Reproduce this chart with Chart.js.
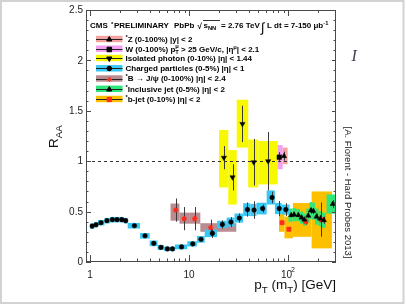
<!DOCTYPE html>
<html>
<head>
<meta charset="utf-8">
<script src="https://cdn.jsdelivr.net/npm/chart.js@4.4.0/dist/chart.umd.min.js"></script>
<style>
  html, body { margin: 0; padding: 0; background: #fff; }
  #wrap { width: 407px; height: 305px; }
</style>
</head>
<body>
<div id="wrap"><canvas id="raa" width="407" height="305"></canvas></div>
<script>
// ============================================================
// R_AA summary plot (CMS PbPb 2.76 TeV) - Chart.js scatter + box plugin
// ============================================================

// ---- axes ----
const X_MIN = 0.91, X_MAX = 305;
const Y_MIN = 0, Y_MAX = 2.5;
const xMajorTicks = [1, 10, 100];
const xMinorTicks = [2, 3, 4, 5, 6, 7, 8, 9, 20, 30, 40, 50, 60, 70, 80, 90, 200, 300];
const yMajorTicks = [0, 0.5, 1, 1.5, 2, 2.5];
const yTickLabels = ['0', '0.5', '1', '1.5', '2', '2.5'];
const yMinorTicks = [0.1, 0.2, 0.3, 0.4, 0.6, 0.7, 0.8, 0.9, 1.1, 1.2, 1.3, 1.4, 1.6, 1.7, 1.8, 1.9, 2.1, 2.2, 2.3, 2.4];

// ---- charged particles (0-5%) ----
const chargedPt = [1.05, 1.15, 1.29, 1.48, 1.68, 1.87, 2.09, 2.29, 2.81, 3.59, 4.4, 5.2, 6.04, 6.8, 8.4, 10.9, 13.2, 17.2, 21.7, 26.5, 32.2, 38.9, 45.4, 55.4, 69, 81.5, 95];
const chargedRaa = [0.356, 0.37, 0.39, 0.41, 0.42, 0.42, 0.42, 0.41, 0.36, 0.26, 0.185, 0.145, 0.13, 0.13, 0.15, 0.18, 0.225, 0.284, 0.373, 0.396, 0.436, 0.52, 0.515, 0.53, 0.64, 0.53, 0.52];
const chargedStat = [0, 0, 0, 0, 0, 0, 0, 0, 0, 0, 0, 0, 0, 0, 0.01, 0.01, 0.02, 0.045, 0.04, 0.05, 0.046, 0.07, 0.087, 0.04, 0.058, 0.075, 0.063];
const chargedSys = [0.027, 0.027, 0.027, 0.027, 0.027, 0.027, 0.027, 0.027, 0.028, 0.028, 0.028, 0.024, 0.022, 0.022, 0.024, 0.026, 0.033, 0.037, 0.036, 0.045, 0.045, 0.063, 0.06, 0.058, 0.07, 0.055, 0.05];
const chargedBinEdges = [1.0, 1.1, 1.2, 1.4, 1.6, 1.8, 2.0, 2.2, 2.4, 3.2, 4.0, 4.8, 5.6, 6.4, 7.2, 9.6, 12.0, 14.4, 19.2, 24, 28.8, 35.2, 41.6, 48, 60.8, 73.6, 86.4, 103.6];

// ---- isolated photon (0-10%) ----
const photonPt = [22.5, 27.5, 34.6, 45, 63];
const photonRaa = [1.035, 0.84, 1.37, 0.99, 1.0];
const photonStat = [0.115, 0.13, 0.18, 0.23, 0.29];
const photonBinLo = [20.1, 24.9, 30.3, 39.6, 50];
const photonBinHi = [24.9, 30.3, 39.6, 50, 78.6];
const photonSysLo = [0.74, 0.57, 1.135, 0.74, 0.77];
const photonSysHi = [1.31, 1.11, 1.61, 1.215, 1.2];

// ---- W (0-100%) ----
const wPt = [81.5];
const wRaa = [1.04];
const wStat = [0.05];
const wBinLo = [78.6];
const wBinHi = [88.3];
const wSysLo = [0.92];
const wSysHi = [1.16];

// ---- Z (0-100%) ----
const zPt = [91];
const zRaa = [1.05];
const zStat = [0.045];
const zBinLo = [88.3];
const zBinHi = [99];
const zSysLo = [0.97];
const zSysHi = [1.135];

// ---- B -> J/psi (0-100%) ----
const bjpsiPt = [7.33, 8.94, 11.4, 16.5];
const bjpsiRaa = [0.515, 0.43, 0.43, 0.34];
const bjpsiStat = [0.115, 0.115, 0.115, 0.08];
const bjpsiBinLo = [6.5, 8, 10, 13];
const bjpsiBinHi = [8, 10, 13, 30];
const bjpsiSysLo = [0.41, 0.38, 0.38, 0.30];
const bjpsiSysHi = [0.58, 0.49, 0.49, 0.385];

// ---- inclusive jet (0-5%) ----
const jetPt = [107.5, 115, 127, 137, 146, 160, 170, 180, 194, 212, 230, 283];
const jetRaa = [0.465, 0.47, 0.465, 0.44, 0.42, 0.46, 0.51, 0.505, 0.45, 0.43, 0.415, 0.575];
const jetStat = [0.02, 0.02, 0.02, 0.02, 0.02, 0.025, 0.03, 0.03, 0.03, 0.035, 0.035, 0.04];
const jetSys = [0.065, 0.065, 0.06, 0.06, 0.06, 0.07, 0.085, 0.085, 0.08, 0.075, 0.075, 0.095];
const jetBinLo = [101, 111, 121, 132, 142, 153, 165, 175, 187, 203, 220, 245];
const jetBinHi = [111, 121, 132, 142, 153, 165, 175, 187, 203, 220, 240, 305];

// ---- b-jet (0-10%) ----
const bjetPt = [87, 102, 151, 217];
const bjetRaa = [0.39, 0.325, 0.40, 0.42];
const bjetStat = [0.02, 0.02, 0.03, 0.17];
const bjetBinLo = [81, 92, 112, 173];
const bjetBinHi = [92, 112, 173, 277];
const bjetSysLo = [0.30, 0.235, 0.25, 0.135];
const bjetSysHi = [0.50, 0.45, 0.585, 0.70];

// ---- legend labels ----
const legendLabels = [
  [['*', 'sup'], ['Z (0-100%) |y| < 2', '']],
  [['W (0-100%) p', ''], [['T', '\u03BC'], 'ss'], [' > 25 GeV/c, |\u03B7', ''], ['\u03BC', 'sup'], ['| < 2.1', '']],
  [['Isolated photon (0-10%) |\u03B7| < 1.44', '']],
  [['Charged particles (0-5%) |\u03B7| < 1', '']],
  [['*', 'sup'], ['B \u2192 J/\u03C8 (0-100%) |\u03B7| < 2.4', '']],
  [['*', 'sup'], ['Inclusive jet (0-5%) |\u03B7| < 2', '']],
  [['*', 'sup'], ['b-jet (0-10%) |\u03B7| < 2', '']]
];

const COLORS = {
  z: '#f4a2a2',
  w: '#f3a0f3',
  photon: '#f8f800',
  charged: '#38c8f4',
  bjpsi: '#b98c92',
  jet: '#2ee67a',
  bjet: '#fcc000',
  black: '#000000',
  red: '#ff2a1a',
  axis: '#4a4a4a',
  err: '#3a3a3a'
};
const FONT = '"Liberation Sans", Arial, Helvetica, sans-serif';

const sub = (a, b) => a.map((v, i) => v - b[i]);
const add = (a, b) => a.map((v, i) => v + b[i]);

const SERIES = {
  z: { pt: zPt, raa: zRaa, stat: zStat, lo: zBinLo, hi: zBinHi, sysLo: zSysLo, sysHi: zSysHi, fill: COLORS.z, style: 'triangle', rot: 0, radius: 3, color: COLORS.black },
  w: { pt: wPt, raa: wRaa, stat: wStat, lo: wBinLo, hi: wBinHi, sysLo: wSysLo, sysHi: wSysHi, fill: COLORS.w, style: 'rect', rot: 0, radius: 3.2, color: COLORS.black },
  photon: { pt: photonPt, raa: photonRaa, stat: photonStat, lo: photonBinLo, hi: photonBinHi, sysLo: photonSysLo, sysHi: photonSysHi, fill: COLORS.photon, style: 'triangle', rot: 180, radius: 3, color: COLORS.black },
  charged: { pt: chargedPt, raa: chargedRaa, stat: chargedStat, lo: chargedBinEdges.slice(0, -1), hi: chargedBinEdges.slice(1), sysLo: sub(chargedRaa, chargedSys), sysHi: add(chargedRaa, chargedSys), fill: COLORS.charged, style: 'circle', rot: 0, radius: 2.3, color: COLORS.black },
  bjpsi: { pt: bjpsiPt, raa: bjpsiRaa, stat: bjpsiStat, lo: bjpsiBinLo, hi: bjpsiBinHi, sysLo: bjpsiSysLo, sysHi: bjpsiSysHi, fill: COLORS.bjpsi, style: 'star', rot: 0, radius: 2.6, color: COLORS.red },
  jet: { pt: jetPt, raa: jetRaa, stat: jetStat, lo: jetBinLo, hi: jetBinHi, sysLo: sub(jetRaa, jetSys), sysHi: add(jetRaa, jetSys), fill: COLORS.jet, style: 'triangle', rot: 0, radius: 3, color: COLORS.black },
  bjet: { pt: bjetPt, raa: bjetRaa, stat: bjetStat, lo: bjetBinLo, hi: bjetBinHi, sysLo: bjetSysLo, sysHi: bjetSysHi, fill: COLORS.bjet, style: 'rect', rot: 0, radius: 3, color: COLORS.red }
};
const LEGEND_ORDER = ['z', 'w', 'photon', 'charged', 'bjpsi', 'jet', 'bjet'];
const BOX_ORDER = ['bjet', 'jet', 'bjpsi', 'charged', 'photon', 'w', 'z'];

// rich text: parts = [text, kind], kind '' | 'sub' | 'sup' | 'ss' (stacked sub/sup)
function rich(ctx, x, y, parts, size, weight, draw = true) {
  let cx = x;
  const small = size * 0.72;
  parts.forEach(([t, k]) => {
    if (k === 'sub' || k === 'sup') {
      ctx.font = `${weight} ${small}px ${FONT}`;
      if (draw) ctx.fillText(t, cx, y + (k === 'sub' ? size * 0.28 : -size * 0.38));
      cx += ctx.measureText(t).width;
    } else if (k === 'ss') {
      ctx.font = `${weight} ${small}px ${FONT}`;
      if (draw) { ctx.fillText(t[0], cx, y + size * 0.3); ctx.fillText(t[1], cx, y - size * 0.42); }
      cx += Math.max(ctx.measureText(t[0]).width, ctx.measureText(t[1]).width);
    } else {
      ctx.font = `${weight} ${size}px ${FONT}`;
      if (draw) ctx.fillText(t, cx, y);
      cx += ctx.measureText(t).width;
    }
  });
  return cx - x;
}

function marker(ctx, s, x, y) {
  ctx.fillStyle = s.color;
  ctx.strokeStyle = s.color;
  ctx.lineWidth = 1;
  Chart.helpers.drawPoint(ctx, { pointStyle: s.style, rotation: s.rot, radius: s.radius, borderWidth: s.style === 'star' ? 1.2 : 0.5 }, x, y);
}

const rootPlot = {
  id: 'rootPlot',
  beforeDatasetsDraw(chart) {
    const { ctx, chartArea: a, scales: { x, y } } = chart;
    ctx.save();
    ctx.beginPath();
    ctx.rect(a.left, a.top, a.right - a.left, a.bottom - a.top);
    ctx.clip();

    // systematic boxes
    BOX_ORDER.forEach(k => {
      const s = SERIES[k];
      ctx.fillStyle = s.fill;
      s.pt.forEach((_, i) => {
        const x0 = x.getPixelForValue(s.lo[i]), x1 = x.getPixelForValue(s.hi[i]);
        const y0 = y.getPixelForValue(s.sysHi[i]), y1 = y.getPixelForValue(s.sysLo[i]);
        ctx.fillRect(x0, y0, x1 - x0, y1 - y0);
      });
    });

    // unity line
    ctx.strokeStyle = '#333';
    ctx.lineWidth = 1;
    ctx.setLineDash([3, 3]);
    const y1 = Math.round(y.getPixelForValue(1)) + 0.5;
    ctx.beginPath();
    ctx.moveTo(a.left, y1);
    ctx.lineTo(a.right, y1);
    ctx.stroke();
    ctx.setLineDash([]);

    // statistical error bars
    ctx.strokeStyle = COLORS.err;
    BOX_ORDER.forEach(k => {
      const s = SERIES[k];
      s.pt.forEach((p, i) => {
        if (!s.stat[i]) return;
        const xx = Math.round(x.getPixelForValue(p)) + 0.5;
        ctx.beginPath();
        ctx.moveTo(xx, y.getPixelForValue(s.raa[i] - s.stat[i]));
        ctx.lineTo(xx, y.getPixelForValue(s.raa[i] + s.stat[i]));
        ctx.stroke();
      });
    });
    ctx.restore();
  },
  afterDraw(chart) {
    const { ctx, chartArea: a, scales: { x, y } } = chart;
    ctx.save();

    // frame
    ctx.strokeStyle = COLORS.axis;
    ctx.lineWidth = 1;
    ctx.strokeRect(a.left + 0.5, a.top + 0.5, a.right - a.left - 1, a.bottom - a.top - 1);

    // ticks (inward, mirrored)
    const tick = (x0, y0, x1, y1) => { ctx.beginPath(); ctx.moveTo(x0, y0); ctx.lineTo(x1, y1); ctx.stroke(); };
    yMajorTicks.forEach(v => { const p = Math.round(y.getPixelForValue(v)) + 0.5; tick(a.left, p, a.left + 5, p); tick(a.right, p, a.right - 4, p); });
    yMinorTicks.forEach(v => { const p = Math.round(y.getPixelForValue(v)) + 0.5; tick(a.left, p, a.left + 2.5, p); tick(a.right, p, a.right - 2.5, p); });
    xMajorTicks.forEach(v => { const p = Math.round(x.getPixelForValue(v)) + 0.5; tick(p, a.bottom, p, a.bottom - 7); tick(p, a.top, p, a.top + 6); });
    xMinorTicks.forEach(v => { const p = Math.round(x.getPixelForValue(v)) + 0.5; tick(p, a.bottom, p, a.bottom - 3.5); tick(p, a.top, p, a.top + 3); });

    // tick labels
    ctx.fillStyle = '#222';
    ctx.font = `10px ${FONT}`;
    ctx.textAlign = 'right';
    ctx.textBaseline = 'middle';
    yMajorTicks.forEach((v, i) => ctx.fillText(yTickLabels[i], a.left - 3, y.getPixelForValue(v) + 0.5));
    ctx.textAlign = 'center';
    ctx.textBaseline = 'alphabetic';
    ctx.fillText('1', x.getPixelForValue(1), 277.5);
    ctx.fillText('10', x.getPixelForValue(10), 277.5);
    ctx.textAlign = 'left';
    const p100 = x.getPixelForValue(100);
    ctx.fillText('10', p100 - 7, 277.5);
    ctx.font = `7px ${FONT}`;
    ctx.fillText('2', p100 + 3, 272);

    // axis titles
    ctx.fillStyle = '#111';
    const xTitle = [['p', ''], ['T', 'sub'], [' (m', ''], ['T', 'sub'], [') [GeV]', '']];
    const wT = rich(ctx, 0, 0, xTitle, 13.5, 'normal', false);
    rich(ctx, a.right - wT, 289, xTitle, 13.5, 'normal');
    ctx.save();
    ctx.translate(58, 148);
    ctx.rotate(-Math.PI / 2);
    rich(ctx, 0, 0, [['R', ''], ['AA', 'sub']], 13.5, 'normal');
    ctx.restore();

    // header
    ctx.fillStyle = '#000';
    ctx.font = `bold 8px ${FONT}`;
    ctx.fillText('CMS', 90, 28);
    ctx.font = `bold 6px ${FONT}`;
    ctx.fillText('*', 111, 26);
    ctx.font = `bold 8px ${FONT}`;
    ctx.fillText('PRELIMINARY', 114, 28);
    ctx.fillText('PbPb', 174, 28);
    ctx.fillText('\u221A', 197.5, 28.5);
    ctx.fillRect(203, 20, 17, 0.8);
    rich(ctx, 203.5, 28, [['s', ''], ['NN', 'sub']], 8, 'bold');
    ctx.font = `bold 8px ${FONT}`;
    ctx.fillText('= 2.76 TeV', 221, 28);
    ctx.font = `13px ${FONT}`;
    ctx.fillText('\u222B', 261, 31.5);
    rich(ctx, 267, 28, [['L dt = 7-150 \u03BCb', ''], ['-1', 'sup']], 8, 'bold');

    // legend
    const rowY = [39, 48.7, 58, 68.3, 78.5, 88.8, 99];
    LEGEND_ORDER.forEach((k, i) => {
      const s = SERIES[k];
      const cy = rowY[i];
      ctx.fillStyle = s.fill;
      ctx.fillRect(96, cy - 3.2, 26.5, 6.4);
      ctx.strokeStyle = '#222';
      ctx.lineWidth = 1;
      ctx.beginPath();
      ctx.moveTo(96, Math.round(cy) + 0.5);
      ctx.lineTo(122.5, Math.round(cy) + 0.5);
      ctx.stroke();
      marker(ctx, s, 109.3, Math.round(cy) + 0.5);
      ctx.fillStyle = '#000';
      rich(ctx, 125.5, cy + 2.9, legendLabels[i], 8, 'bold');
    });

    // side annotation
    ctx.save();
    ctx.translate(347.5, 192.5);
    ctx.rotate(Math.PI / 2);
    ctx.fillStyle = '#222';
    ctx.font = `9.5px ${FONT}`;
    ctx.textAlign = 'center';
    ctx.textBaseline = 'middle';
    ctx.fillText('[A. Florent - Hard Probes 2013]', 0, 0);
    ctx.restore();

    ctx.fillStyle = '#3a4254';
    ctx.font = 'italic 16px "Liberation Serif", "DejaVu Serif", serif';
    ctx.fillText('I', 351.5, 61);

    // outer page border
    ctx.strokeStyle = '#d2d2d2';
    ctx.lineWidth = 2;
    ctx.strokeRect(1, 1, 402.5, 302);
    ctx.restore();
  }
};

const datasets = BOX_ORDER.slice().reverse().map(k => {
  const s = SERIES[k];
  return {
    label: k,
    data: s.pt.map((p, i) => ({ x: p, y: s.raa[i] })),
    pointStyle: s.style,
    pointRotation: s.rot,
    pointRadius: s.radius,
    backgroundColor: s.color,
    borderColor: s.color,
    borderWidth: s.style === 'star' ? 1.2 : 0.5,
    showLine: false
  };
});

new Chart(document.getElementById('raa'), {
  type: 'scatter',
  data: { datasets },
  options: {
    responsive: false,
    animation: false,
    events: [],
    devicePixelRatio: 1,
    layout: { padding: { left: 86, right: 71, top: 10, bottom: 43 } },
    plugins: { legend: { display: false }, tooltip: { enabled: false } },
    scales: {
      x: { type: 'logarithmic', min: X_MIN, max: X_MAX, display: false },
      y: { type: 'linear', min: Y_MIN, max: Y_MAX, display: false }
    }
  },
  plugins: [rootPlot]
});
</script>
</body>
</html>
